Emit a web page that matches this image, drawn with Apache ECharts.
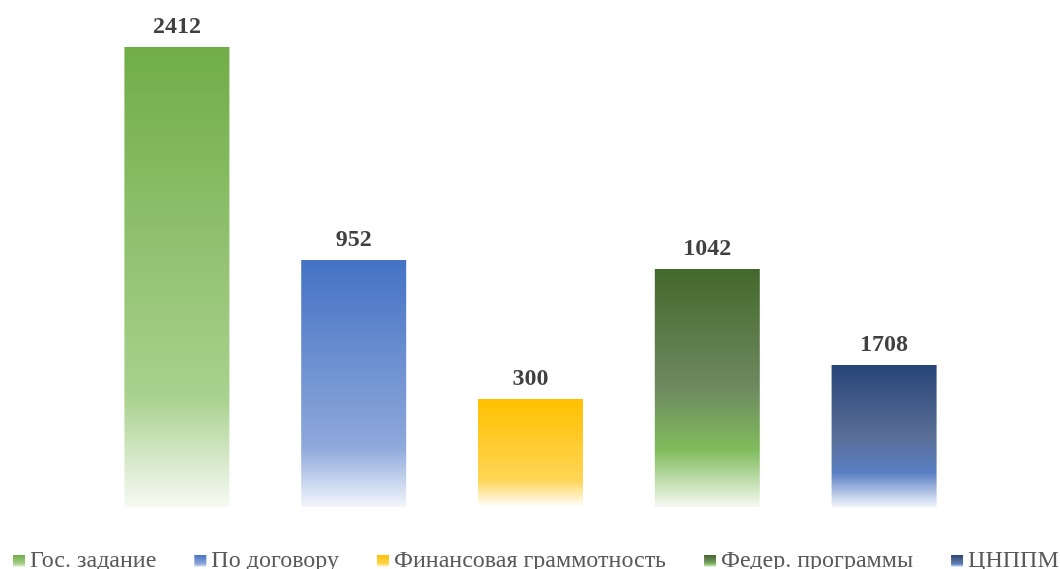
<!DOCTYPE html>
<html>
<head>
<meta charset="utf-8">
<script src="https://cdn.jsdelivr.net/npm/echarts@6/dist/echarts.min.js"></script>
<style>
html,body{margin:0;padding:0;background:#fff;}
#chart{width:1060px;height:569px;}
</style>
</head>
<body>
<div id="chart"></div>
<script>
// Categories / series names
var seriesNames = ['Гос. задание', 'По договору', 'Финансовая граммотность', 'Федер. программы', 'ЦНППМ'];
// Printed value labels (as shown above the bars)
var labelValues = [2412, 952, 300, 1042, 1708];
// Bar heights as drawn in the picture (same units as the first bar)
var barHeights = [2412, 1295, 566, 1248, 745];

var gradients = [
  [['0', '#70AD47'], ['0.76', '#A9D18E'], ['1', '#F7FAF4']],
  [['0', '#4472C4'], ['0.76', '#8EA9DB'], ['1', '#F3F6FB']],
  [['0', '#FFC000'], ['0.75', '#FFD556'], ['1', '#FFFFFF']],
  [['0', '#43682B'], ['0.5', '#6E8A60'], ['0.76', '#80BC5C'], ['1', '#F5F9F2']],
  [['0', '#264478'], ['0.5', '#5A6E96'], ['0.76', '#5A7FC4'], ['1', '#F2F5FB']]
];

var font = '"Liberation Serif", "Times New Roman", serif';

var series = seriesNames.map(function (name, i) {
  var data = seriesNames.map(function (_, j) { return j === i ? barHeights[i] : null; });
  return {
    name: name,
    type: 'bar',
    stack: 'all',
    barWidth: 105,
    data: data,
    itemStyle: {
      color: {
        type: 'linear', x: 0, y: 0, x2: 0, y2: 1,
        colorStops: gradients[i].map(function (s) { return { offset: parseFloat(s[0]), color: s[1] }; })
      }
    },
    label: {
      show: true,
      position: 'top',
      distance: 8,
      fontFamily: font,
      fontWeight: 'bold',
      fontSize: 24,
      color: '#404040',
      formatter: function (p) { return String(labelValues[p.dataIndex]); }
    },
    emphasis: { disabled: true }
  };
});

var chart = echarts.init(document.getElementById('chart'), null, { renderer: 'canvas' });
chart.setOption({
  animation: false,
  backgroundColor: '#ffffff',
  grid: { left: 88.5, right: 87.5, top: 47, bottom: 62 },
  xAxis: {
    type: 'category',
    data: seriesNames,
    show: false
  },
  yAxis: {
    type: 'value',
    min: 0,
    max: 2412,
    show: false
  },
  legend: {
    left: 8,
    top: 544,
    width: 3000,
    icon: 'rect',
    itemWidth: 12,
    itemHeight: 12,
    itemGap: 38,
    textStyle: { fontFamily: font, fontSize: 24, color: '#595959' },
    data: seriesNames
  },
  series: series
});
</script>
</body>
</html>
